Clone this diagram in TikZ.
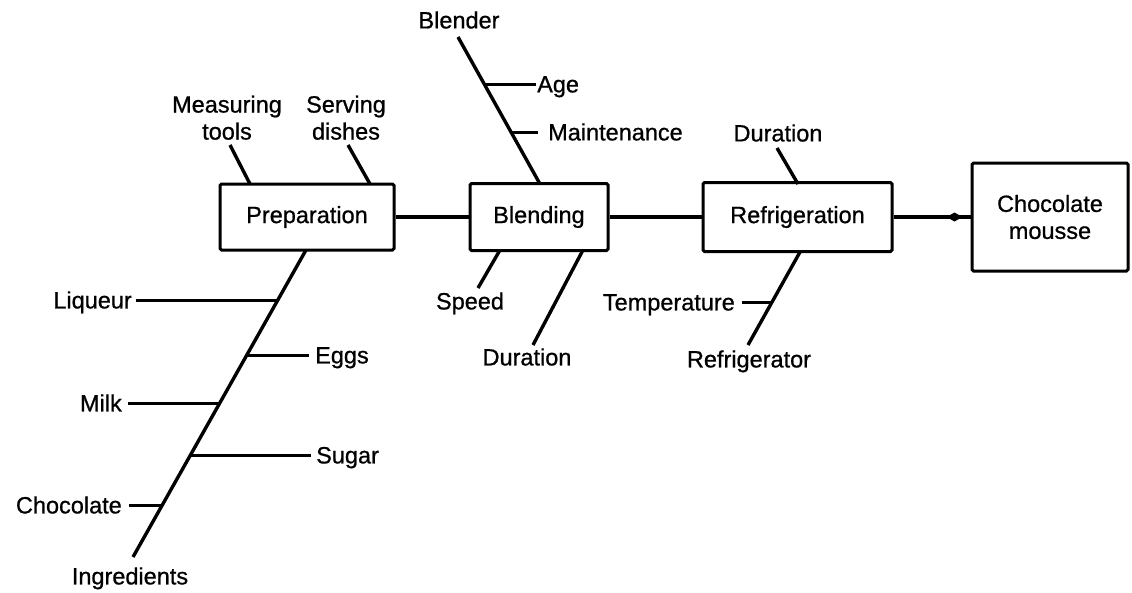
\documentclass[tikz,border=0pt]{standalone}
\usepackage{fontspec}
\setmainfont{Liberation Sans}[RawFeature={embolden=0.8}]
\usetikzlibrary{arrows.meta,decorations.markings}
\newcommand{\fbfont}{\fontsize{23.5}{27}\selectfont}
\begin{document}
\begin{tikzpicture}[x=1pt,y=-1pt,
  box/.style={draw, line width=3pt, rounded corners=1.5pt, inner sep=0pt, font=\fbfont, align=center},
  lbl/.style={inner sep=0pt, font=\fbfont, text height=16.8pt, text depth=0pt},
  two/.style={inner sep=0pt, font=\fbfont, align=center},
  bone/.style={line width=3.4pt},
  rib/.style={line width=3pt},
  conn/.style={line width=3.2pt}]
\useasboundingbox (0,0) rectangle (1132,592);

% main boxes
\node[box, minimum width=174pt, minimum height=66pt] (prep) at (307,217) {Preparation};
\node[box, minimum width=138pt, minimum height=67pt] (blend) at (539,217) {Blending};
\node[box, minimum width=189pt, minimum height=69pt] (refr) at (797.5,217) {Refrigeration};
\node[box, minimum width=156pt, minimum height=108pt] (mousse) at (1050,217) {Chocolate\\mousse};

% main line
\draw[conn] (prep) -- (blend);
\draw[conn] (blend) -- (refr);
\draw[conn, postaction={decorate, decoration={markings,
   mark=at position -8pt with {\arrow{Kite[length=16pt,width=9pt,inset=8pt]}}}}]
   (refr) -- (mousse);

% Preparation: top causes
\node[two, anchor=south] (meas) at (227,140) {Measuring\\tools};
\node[two, anchor=south] (serv) at (346,140) {Serving\\dishes};
\coordinate (measE) at (230,145);
\coordinate (measP) at (250,184);
\coordinate (servE) at (348,145);
\coordinate (servP) at (370,184);
\draw[bone] (measE) -- (measP);
\draw[bone] (servE) -- (servP);

% Preparation: ingredients spine
\coordinate (ingT) at (306,250);
\coordinate (ingB) at (133,557);
\draw[bone] (ingT) -- (ingB);
\node[lbl, anchor=center] (ing) at (130,576) {Ingredients};

\node[lbl, anchor=east] (liq) at (132,300) {Liqueur};
\node[lbl, anchor=west] (egg) at (315,355) {Eggs};
\node[lbl, anchor=east] (milk) at (122,403) {Milk};
\node[lbl, anchor=west] (sug) at (316,455) {Sugar};
\node[lbl, anchor=east] (choc) at (122,505) {Chocolate};

\coordinate (liqS) at (277,300);
\coordinate (eggS) at (247,355);
\coordinate (milkS) at (220,403);
\coordinate (sugS) at (191,455);
\coordinate (chocS) at (163,505);
\draw[rib] ([xshift=4pt]liq.east) -- (liqS);
\draw[rib] (eggS) -- ([xshift=-6pt]egg.west);
\draw[rib] ([xshift=6pt]milk.east) -- (milkS);
\draw[rib] (sugS) -- ([xshift=-5pt]sug.west);
\draw[rib] ([xshift=7pt]choc.east) -- (chocS);

% Blending: blender spine
\node[lbl, anchor=center] (bld) at (459,20) {Blender};
\coordinate (bldT) at (458,37);
\coordinate (bldB) at (540,184);
\draw[bone] (bldT) -- (bldB);
\node[lbl, anchor=west] (age) at (537,84) {Age};
\node[lbl, anchor=west] (mnt) at (548,132) {Maintenance};
\coordinate (ageS) at (484,84);
\coordinate (mntS) at (511,132);
\draw[rib] (ageS) -- ([xshift=-1pt]age.west);
\draw[rib] (mntS) -- ([xshift=-10pt]mnt.west);

% Blending: lower causes
\node[lbl, anchor=center] (spd) at (470,301) {Speed};
\node[lbl, anchor=center] (bdur) at (527,357) {Duration};
\coordinate (spdP) at (500,250);
\coordinate (spdE) at (478,288);
\coordinate (bdurP) at (583,250);
\coordinate (bdurE) at (533,345);
\draw[bone] (spdP) -- (spdE);
\draw[bone] (bdurP) -- (bdurE);

% Refrigeration: upper cause
\node[lbl, anchor=center] (rdur) at (778,133) {Duration};
\coordinate (rdurE) at (777,148);
\coordinate (rdurP) at (798,184);
\draw[bone] (rdurE) -- (rdurP);

% Refrigeration: lower spine
\node[lbl, anchor=center] (rfg) at (749,359) {Refrigerator};
\coordinate (rfgP) at (800,252);
\coordinate (rfgE) at (748,345);
\draw[bone] (rfgP) -- (rfgE);
\node[lbl, anchor=east] (tmp) at (735,302) {Temperature};
\coordinate (tmpS) at (772,302);
\draw[rib] ([xshift=7pt]tmp.east) -- (tmpS);
\end{tikzpicture}
\end{document}
